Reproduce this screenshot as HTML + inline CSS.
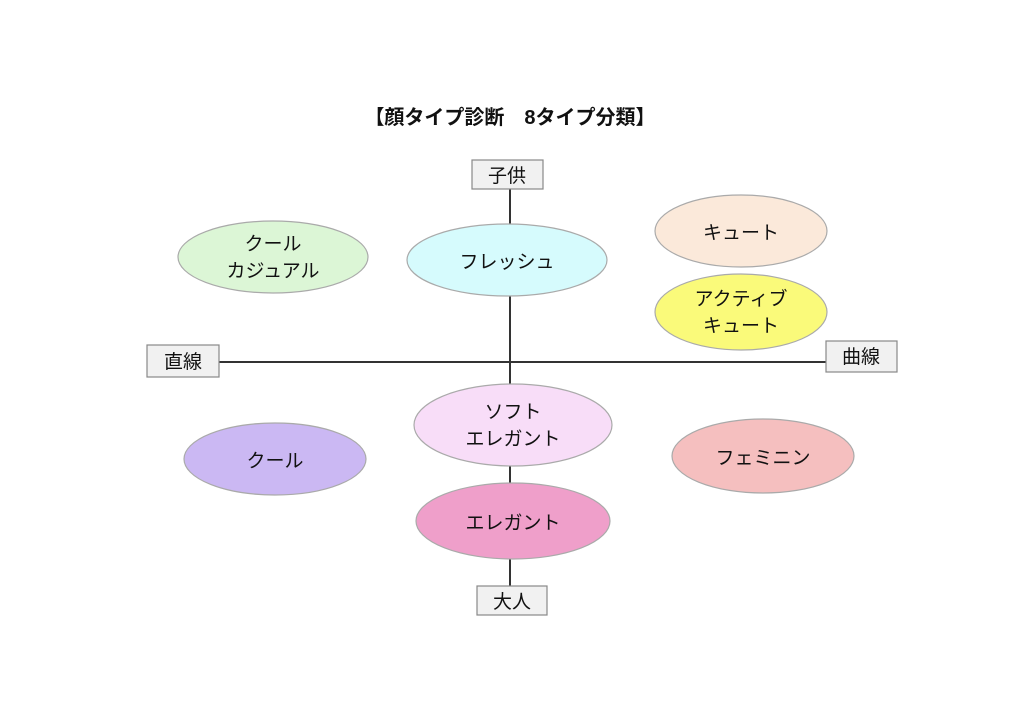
<!DOCTYPE html>
<html><head><meta charset="utf-8"><style>
html,body{margin:0;padding:0;background:#fff;}
svg{display:block;}
text{font-family:"Liberation Sans","Noto Sans CJK JP",sans-serif;fill:#111;}
</style></head><body>
<svg width="1024" height="724" viewBox="0 0 1024 724" xmlns="http://www.w3.org/2000/svg">
<rect width="1024" height="724" fill="#fff"/>
<text x="510" y="124" text-anchor="middle" font-size="20" font-weight="bold">【顔タイプ診断　8タイプ分類】</text>
<line x1="510" y1="189" x2="510" y2="586" stroke="#333" stroke-width="2"/>
<line x1="218" y1="362" x2="826" y2="362" stroke="#333" stroke-width="2"/>
<g stroke="#aaa" stroke-width="1.2">
<ellipse cx="273" cy="257" rx="95" ry="36" fill="#dcf6d6"/>
<ellipse cx="507" cy="260" rx="100" ry="36" fill="#d6fbfd"/>
<ellipse cx="741" cy="231" rx="86" ry="36" fill="#fbe9da"/>
<ellipse cx="741" cy="312" rx="86" ry="38" fill="#fafa7a"/>
<ellipse cx="513" cy="425" rx="99" ry="41" fill="#f8ddf8"/>
<ellipse cx="275" cy="459" rx="91" ry="36" fill="#cbb8f3"/>
<ellipse cx="763" cy="456" rx="91" ry="37" fill="#f5bfbf"/>
<ellipse cx="513" cy="521" rx="97" ry="38" fill="#ef9fca"/>
</g>
<g fill="#f1f1f1" stroke="#888" stroke-width="1.2">
<rect x="472" y="160" width="71" height="29"/>
<rect x="147" y="345" width="72" height="32"/>
<rect x="826" y="341" width="71" height="31"/>
<rect x="477" y="586" width="70" height="29"/>
</g>
<g font-size="19" text-anchor="middle">
<text x="507" y="182">子供</text>
<text x="183" y="368">直線</text>
<text x="861" y="363">曲線</text>
<text x="512" y="608">大人</text>
</g>
<g font-size="19" text-anchor="middle">
<text x="273" y="250">クール</text>
<text x="273" y="277">カジュアル</text>
<text x="507" y="268">フレッシュ</text>
<text x="741" y="239">キュート</text>
<text x="741" y="305">アクティブ</text>
<text x="741" y="332">キュート</text>
<text x="513" y="418">ソフト</text>
<text x="513" y="445">エレガント</text>
<text x="275" y="467">クール</text>
<text x="763" y="464">フェミニン</text>
<text x="513" y="529">エレガント</text>
</g>
</svg>
</body></html>
